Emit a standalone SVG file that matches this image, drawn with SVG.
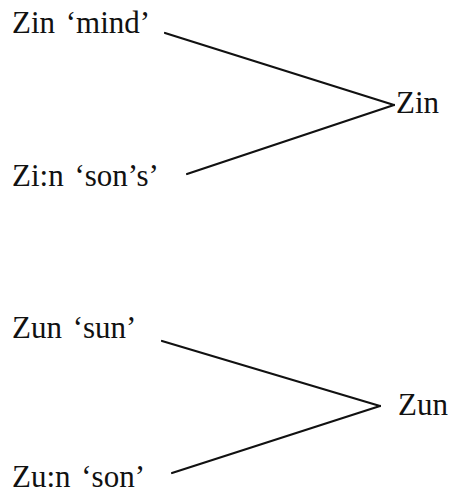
<svg xmlns="http://www.w3.org/2000/svg" width="451" height="495" viewBox="0 0 451 495">
<style>
text{font-family:"Liberation Serif","Times New Roman",serif;font-size:31px;fill:#111;word-spacing:3px}
.c line{stroke:#111;stroke-width:2.2;stroke-linecap:round}
</style>
<rect width="451" height="495" fill="#fff"/>
<g id="n1"><text x="12" y="33">Zin ‘mind’</text></g>
<g id="n2"><text x="12" y="186">Zi:n ‘son’s’</text></g>
<g id="n3"><text x="396" y="113">Zin</text></g>
<g id="n4"><text x="12" y="338">Zun ‘sun’</text></g>
<g id="n5"><text x="12" y="487">Zu:n ‘son’</text></g>
<g id="n6"><text x="398" y="415">Zun</text></g>
<g class="c" id="connectors">
<line x1="165" y1="33" x2="394" y2="105"/>
<line x1="187" y1="174" x2="394" y2="105"/>
<line x1="162" y1="341" x2="380" y2="406"/>
<line x1="172" y1="473" x2="380" y2="406"/>
</g>
</svg>
